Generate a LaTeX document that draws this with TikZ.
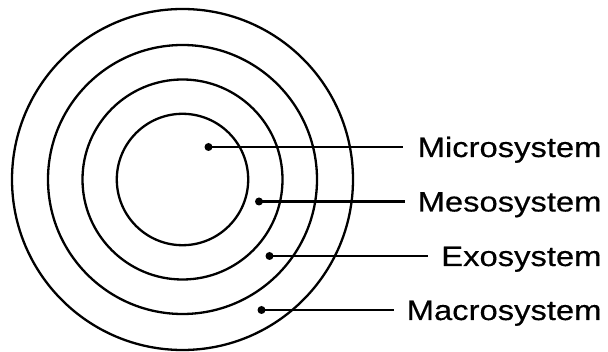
\documentclass[tikz,border=0pt]{standalone}
\usepackage{fontspec}
\newfontfamily\lblfont[FakeStretch=1.17,FakeBold=0.4]{Liberation Sans}
\begin{document}
\begin{tikzpicture}[x=1pt,y=-1pt,
  ring/.style={draw=black,line width=2.3pt},
  dotmark/.style={circle,fill=black,inner sep=0pt,minimum size=8pt},
  conn/.style={draw=black,line width=2.1pt},
  lbl/.style={anchor=base east,inner sep=0pt,font=\lblfont\fontsize{28}{30}\selectfont}]
\useasboundingbox (0,0) rectangle (608,352);
\coordinate (c) at (182.5,179.5);
\draw[ring] (c) circle[radius=65.7pt];
\draw[ring] (c) circle[radius=100pt];
\draw[ring] (c) circle[radius=134.5pt];
\draw[ring] (c) circle[radius=170.5pt];
\node[dotmark] (d1) at (208.5,147) {};
\node[dotmark] (d2) at (259,201.5) {};
\node[dotmark] (d3) at (269.5,256) {};
\node[dotmark] (d4) at (261.5,310) {};
\coordinate (e1) at (402.5,147);
\coordinate (e2) at (405,201.5);
\coordinate (e3) at (427.5,256);
\coordinate (e4) at (394,310);
\draw[conn] (d1.center) -- (e1);
\draw[conn] (d2.center) -- (e2);
\draw[conn] (d3.center) -- (e3);
\draw[conn] (d4.center) -- (e4);
\node[lbl] (t1) at (601.7,157) {Microsystem};
\node[lbl] (t2) at (601.7,211.5) {Mesosystem};
\node[lbl] (t3) at (601.7,266) {Exosystem};
\node[lbl] (t4) at (601.7,320) {Macrosystem};
\end{tikzpicture}
\end{document}
